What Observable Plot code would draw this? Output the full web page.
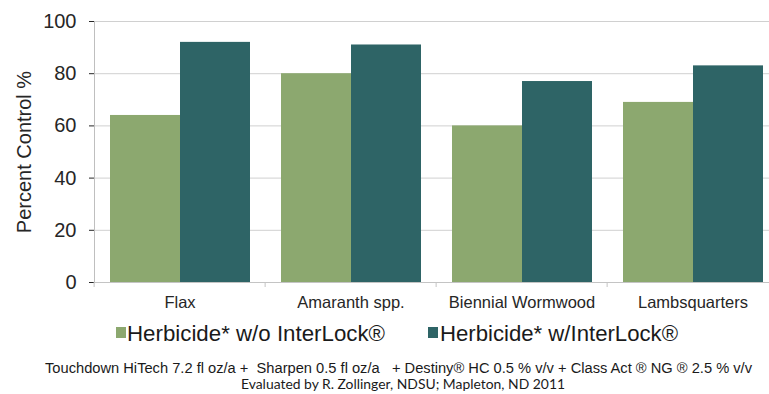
<!DOCTYPE html>
<html>
<head>
<meta charset="utf-8">
<script src="https://cdn.jsdelivr.net/npm/d3@7"></script>
<script src="https://cdn.jsdelivr.net/npm/@observablehq/plot@0.6"></script>
<style>
  html, body { margin: 0; padding: 0; background: #fff; }
  #wrap { position: relative; width: 769px; height: 394px; overflow: hidden; background: #fff; }
  #chart svg { display: block; }
  #chart [aria-label="y-axis tick"] { stroke: #bfbfbf; }
  #notes { position: absolute; left: 0; top: 0; }
</style>
</head>
<body>
<div id="wrap">
  <div id="chart"></div>
  <svg id="notes" width="769" height="394"></svg>
</div>
<script>
const categories = ["Flax", "Amaranth spp.", "Biennial Wormwood", "Lambsquarters"];
const seriesNames = ["Herbicide* w/o InterLock®", "Herbicide* w/InterLock®"];
const withoutInterLock = [64, 80, 60, 69];
const withInterLock = [92, 91, 77, 83];
const yTicks = [0, 20, 40, 60, 80, 100];
const seriesColors = ["#8ca86f", "#2e6466"];
const captionLines = [
  "Touchdown HiTech 7.2 fl oz/a +  Sharpen 0.5 fl oz/a   + Destiny® HC 0.5 % v/v + Class Act ® NG ® 2.5 % v/v",
  "Evaluated by R. Zollinger, NDSU; Mapleton, ND 2011"
];

const data = categories.flatMap((c, i) => [
  {category: c, series: seriesNames[0], value: withoutInterLock[i]},
  {category: c, series: seriesNames[1], value: withInterLock[i]}
]);

const W = 769, ML = 92, MR = -10;
const facetStep = (W - ML - MR) / categories.length;

const chart = Plot.plot({
  width: W,
  height: 315,
  marginLeft: ML,
  marginRight: MR,
  marginTop: 21,
  marginBottom: 33,
  style: {fontFamily: "'Liberation Sans', Arial, sans-serif", color: "#262626", background: "transparent", overflow: "visible"},
  fx: {domain: categories, padding: 0},
  x: {domain: seriesNames, paddingInner: 0, paddingOuter: 0.2175, axis: null},
  y: {domain: [0, 100]},
  color: {domain: seriesNames, range: seriesColors},
  marks: [
    Plot.gridY(yTicks, {stroke: "#d0d0d0", strokeOpacity: 1}),
    Plot.barY(data, {fx: "category", x: "series", y: "value", fill: "series"}),
    Plot.ruleY([0], {stroke: "#c4c4c4"}),
    Plot.frame({anchor: "left", facetAnchor: "left", stroke: "#bfbfbf"}),
    Plot.axisY(yTicks, {tickSize: 5, tickPadding: 13, fontSize: 20,
      label: "Percent Control %", labelAnchor: "center", labelOffset: 78, labelArrow: "none"}),
    Plot.axisFx({anchor: "bottom", tickSize: 0, tickPadding: 14, fontSize: 16.5, label: null}),
    Plot.axisFx({anchor: "bottom", tickSize: 5, tickFormat: () => "", dx: -facetStep / 2, stroke: "#c4c4c4", label: null})
  ]
});
document.getElementById("chart").appendChild(chart);

// legend and notes below the chart
const notes = d3.select("#notes");
const legendItems = [
  {name: seriesNames[0], color: seriesColors[0], sx: 116, tx: 127, len: 258},
  {name: seriesNames[1], color: seriesColors[1], sx: 428, tx: 440, len: 238}
];
legendItems.forEach(d => {
  notes.append("rect").attr("x", d.sx).attr("y", 327).attr("width", 10).attr("height", 11).attr("fill", d.color);
  notes.append("text").attr("x", d.tx).attr("y", 340.5)
    .attr("font-family", "'Liberation Sans', Arial, sans-serif").attr("font-size", 22)
    .attr("fill", "#1a1a1a").attr("textLength", d.len).attr("lengthAdjust", "spacingAndGlyphs")
    .text(d.name);
});
notes.append("text").attr("x", 45).attr("y", 372.5)
  .attr("font-family", "'Liberation Sans Narrow', 'Liberation Sans', Arial, sans-serif").attr("font-size", 14)
  .attr("fill", "#1a1a1a").attr("textLength", 707).attr("lengthAdjust", "spacingAndGlyphs")
  .attr("xml:space", "preserve").style("white-space", "pre")
  .text(captionLines[0]);
notes.append("text").attr("x", 241).attr("y", 389)
  .attr("font-family", "Lato, 'Open Sans', sans-serif").attr("font-size", 13)
  .attr("fill", "#1a1a1a").attr("textLength", 324).attr("lengthAdjust", "spacingAndGlyphs")
  .text(captionLines[1]);
</script>
</body>
</html>
